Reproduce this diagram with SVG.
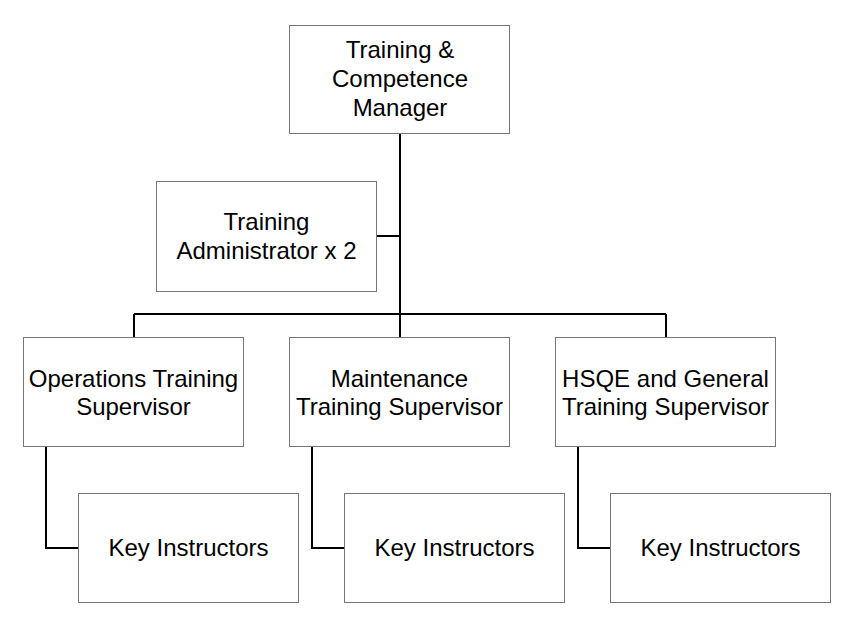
<svg xmlns="http://www.w3.org/2000/svg" width="855" height="627" viewBox="0 0 855 627">
<style>
.box{fill:#fff;stroke:#767676;stroke-width:1}
.t{font-family:"Liberation Sans",Arial,sans-serif;font-size:24px;fill:#000;text-anchor:middle}
.c{fill:none;stroke:#000;stroke-width:2}
</style>
<rect width="855" height="627" fill="#fff"/>
<g id="connectors">
<path class="c" d="M400 134V314M376.5 236H400M134 314H666M134 314V337M400 314V337M666 314V337"/>
<path class="c" d="M46 447V548H78M312 447V548H344M578 447V548H610"/>
</g>
<g id="manager"><rect class="box" x="289.5" y="25.5" width="220" height="108"/>
<text class="t" x="400" y="58">Training &amp;</text><text class="t" x="400" y="87">Competence</text><text class="t" x="400" y="116">Manager</text></g>
<g id="admin"><rect class="box" x="156.5" y="181.5" width="220" height="110"/>
<text class="t" x="266.5" y="230">Training</text><text class="t" x="266.5" y="259">Administrator x 2</text></g>
<g id="ops"><rect class="box" x="23.5" y="337.5" width="220" height="109"/>
<text class="t" x="133.5" y="387">Operations Training</text><text class="t" x="133.5" y="415">Supervisor</text></g>
<g id="maint"><rect class="box" x="289.5" y="337.5" width="220" height="109"/>
<text class="t" x="399.5" y="387">Maintenance</text><text class="t" x="399.5" y="415">Training Supervisor</text></g>
<g id="hsqe"><rect class="box" x="555.5" y="337.5" width="220" height="109"/>
<text class="t" x="665.5" y="387">HSQE and General</text><text class="t" x="665.5" y="415">Training Supervisor</text></g>
<g id="key1"><rect class="box" x="78.5" y="493.5" width="220" height="109"/>
<text class="t" x="188.5" y="556">Key Instructors</text></g>
<g id="key2"><rect class="box" x="344.5" y="493.5" width="220" height="109"/>
<text class="t" x="454.5" y="556">Key Instructors</text></g>
<g id="key3"><rect class="box" x="610.5" y="493.5" width="220" height="109"/>
<text class="t" x="720.5" y="556">Key Instructors</text></g>
</svg>
